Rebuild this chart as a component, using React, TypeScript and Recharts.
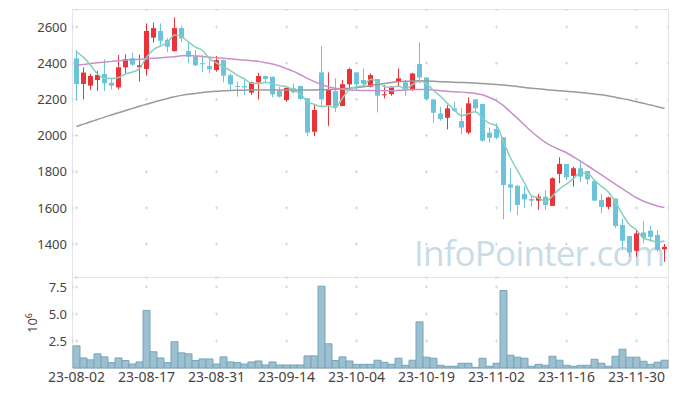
import React from "react";
import { ComposedChart, Bar, Line, XAxis, YAxis, CartesianGrid } from "recharts";

// trading days, 2023-08-02 .. 2023-12-06
const dates = [
  "23-08-02", "23-08-03", "23-08-04", "23-08-07", "23-08-08", "23-08-09", "23-08-10", "23-08-11", "23-08-14", "23-08-16",
  "23-08-17", "23-08-18", "23-08-21", "23-08-22", "23-08-23", "23-08-24", "23-08-25", "23-08-28", "23-08-29", "23-08-30",
  "23-08-31", "23-09-01", "23-09-04", "23-09-05", "23-09-06", "23-09-07", "23-09-08", "23-09-11", "23-09-12", "23-09-13",
  "23-09-14", "23-09-15", "23-09-18", "23-09-19", "23-09-20", "23-09-21", "23-09-22", "23-09-25", "23-09-26", "23-09-27",
  "23-10-04", "23-10-05", "23-10-06", "23-10-10", "23-10-11", "23-10-12", "23-10-13", "23-10-16", "23-10-17", "23-10-18",
  "23-10-19", "23-10-20", "23-10-23", "23-10-24", "23-10-25", "23-10-26", "23-10-27", "23-10-30", "23-10-31", "23-11-01",
  "23-11-02", "23-11-03", "23-11-06", "23-11-07", "23-11-08", "23-11-09", "23-11-10", "23-11-13", "23-11-14", "23-11-15",
  "23-11-16", "23-11-17", "23-11-20", "23-11-21", "23-11-22", "23-11-23", "23-11-24", "23-11-27", "23-11-28", "23-11-29",
  "23-11-30", "23-12-01", "23-12-04", "23-12-05", "23-12-06",
];

const opens = [
  2427, 2285, 2276, 2307, 2340, 2292, 2266, 2377, 2427, 2378,
  2368, 2541, 2578, 2528, 2467, 2594, 2467, 2438, 2400, 2384,
  2362, 2417, 2334, 2274, 2274, 2237, 2294, 2329, 2325, 2246,
  2196, 2261, 2274, 2206, 2021, 2349, 2168, 2246, 2163, 2283,
  2349, 2307, 2270, 2312, 2222, 2229, 2297, 2294, 2251, 2395,
  2321, 2200, 2122, 2098, 2150, 2080, 2016, 2200, 2175, 2016,
  2036, 1990, 1730, 1723, 1677, 1649, 1640, 1662, 1611, 1788,
  1843, 1777, 1819, 1804, 1748, 1643, 1606, 1652, 1505, 1444,
  1363, 1464, 1474, 1450, 1371,
];
const highs = [
  2473, 2377, 2340, 2357, 2421, 2320, 2445, 2449, 2458, 2447,
  2620, 2624, 2620, 2539, 2653, 2607, 2519, 2473, 2445, 2427,
  2440, 2420, 2344, 2298, 2310, 2298, 2347, 2330, 2326, 2270,
  2265, 2288, 2275, 2207, 2172, 2495, 2349, 2316, 2307, 2375,
  2350, 2371, 2343, 2312, 2279, 2273, 2371, 2307, 2347, 2515,
  2322, 2200, 2159, 2168, 2187, 2151, 2211, 2200, 2175, 2044,
  2068, 1990, 1819, 1723, 1718, 1666, 1677, 1699, 1769, 1880,
  1843, 1828, 1861, 1804, 1748, 1676, 1662, 1652, 1542, 1444,
  1477, 1527, 1501, 1477, 1400,
];
const lows = [
  2193, 2200, 2252, 2246, 2246, 2255, 2255, 2344, 2384, 2298,
  2331, 2515, 2502, 2460, 2464, 2517, 2399, 2384, 2350, 2344,
  2353, 2294, 2252, 2215, 2224, 2224, 2200, 2288, 2211, 2209,
  2187, 2233, 2196, 1997, 1997, 2159, 2054, 2131, 2163, 2255,
  2251, 2270, 2266, 2128, 2205, 2220, 2270, 2220, 2248, 2288,
  2196, 2071, 2082, 2034, 2131, 2007, 2007, 2127, 1965, 1961,
  1979, 1537, 1579, 1561, 1598, 1607, 1589, 1589, 1611, 1736,
  1754, 1718, 1745, 1730, 1640, 1570, 1592, 1487, 1367, 1330,
  1330, 1407, 1413, 1358, 1302,
];
const closes = [
  2285, 2348, 2329, 2335, 2289, 2276, 2377, 2423, 2392, 2388,
  2578, 2594, 2524, 2491, 2594, 2537, 2436, 2388, 2396, 2366,
  2417, 2331, 2283, 2270, 2266, 2294, 2329, 2312, 2228, 2215,
  2264, 2239, 2202, 2016, 2141, 2200, 2255, 2159, 2284, 2367,
  2283, 2285, 2334, 2220, 2228, 2270, 2316, 2251, 2343, 2321,
  2202, 2126, 2091, 2150, 2137, 2044, 2178, 2151, 1972, 1988,
  1988, 1727, 1712, 1616, 1647, 1640, 1662, 1616, 1764, 1843,
  1769, 1819, 1773, 1758, 1640, 1606, 1658, 1500, 1418, 1354,
  1459, 1435, 1440, 1367, 1385,
];

// moving averages as drawn (5, 20, 60 days)
const ma5 = [
  2463, 2432, 2390, 2340, 2317, 2315, 2321, 2340, 2351, 2371,
  2432, 2475, 2495, 2515, 2556, 2548, 2516, 2489, 2470, 2425,
  2401, 2380, 2359, 2333, 2313, 2289, 2288, 2294, 2286, 2276,
  2270, 2252, 2230, 2187, 2172, 2160, 2163, 2154, 2208, 2253,
  2270, 2276, 2311, 2298, 2270, 2267, 2274, 2257, 2282, 2300,
  2287, 2249, 2217, 2178, 2141, 2110, 2120, 2132, 2096, 2067,
  2055, 1965, 1877, 1806, 1738, 1668, 1655, 1636, 1666, 1705,
  1731, 1762, 1794, 1792, 1752, 1719, 1687, 1632, 1564, 1507,
  1478, 1433, 1421, 1411, 1417,
];
const ma20 = [
  2390, 2393, 2398, 2402, 2406, 2410, 2413, 2417, 2420, 2422,
  2425, 2427, 2430, 2433, 2436, 2441, 2443, 2440, 2437, 2433,
  2430, 2427, 2424, 2420, 2417, 2414, 2410, 2403, 2395, 2384,
  2370, 2355, 2336, 2316, 2298, 2282, 2270, 2262, 2256, 2252,
  2250, 2249, 2249, 2248, 2248, 2248, 2250, 2252, 2254, 2255,
  2255, 2252, 2248, 2245, 2242, 2240, 2237, 2233, 2225, 2210,
  2192, 2165, 2130, 2095, 2058, 2022, 1990, 1962, 1940, 1922,
  1905, 1882, 1858, 1833, 1808, 1782, 1756, 1730, 1705, 1680,
  1656, 1637, 1623, 1611, 1602,
];
const ma60 = [
  2050, 2063, 2076, 2089, 2102, 2114, 2126, 2138, 2150, 2162,
  2173, 2184, 2195, 2205, 2214, 2222, 2228, 2233, 2238, 2242,
  2245, 2247, 2249, 2250, 2251, 2252, 2252, 2252, 2252, 2252,
  2252, 2252, 2252, 2252, 2252, 2253, 2254, 2256, 2258, 2261,
  2265, 2270, 2276, 2282, 2288, 2293, 2297, 2300, 2302, 2303,
  2302, 2300, 2298, 2296, 2294, 2293, 2292, 2290, 2288, 2285,
  2282, 2279, 2275, 2271, 2266, 2262, 2258, 2254, 2251, 2248,
  2245, 2242, 2238, 2234, 2230, 2225, 2219, 2212, 2204, 2196,
  2187, 2178, 2169, 2159, 2150,
];

// volume, millions of shares
const volumes = [
  2.05, 0.93, 0.75, 1.31, 1.03, 0.5, 0.93, 0.69, 0.37, 0.56,
  5.33, 1.5, 0.93, 0.5, 2.43, 1.4, 1.31, 0.69, 0.84, 0.84,
  0.37, 1.03, 0.56, 0.5, 0.37, 0.56, 0.65, 0.28, 0.56, 0.28,
  0.28, 0.28, 0.28, 1.12, 1.12, 7.57, 2.24, 0.69, 1.03, 0.65,
  0.34, 0.34, 0.34, 0.72, 0.53, 0.34, 0.9, 0.25, 0.72, 4.27,
  1.0, 0.9, 0.25, 0.16, 0.16, 0.44, 0.44, 0.06, 0.9, 0.16,
  0.44, 7.17, 1.18, 1.0, 0.9, 0.16, 0.34, 0.25, 1.09, 0.72,
  0.25, 0.16, 0.25, 0.25, 0.81, 0.44, 0.16, 1.09, 1.74, 1.0,
  1.0, 0.62, 0.34, 0.53, 0.72,
];

const priceTicks = [1400, 1600, 1800, 2000, 2200, 2400, 2600];
const volumeTicks = [2.5, 5, 7.5];
const dateTicks = dates.filter((_, i) => i % 10 === 0);

const UP = "#ea3339";
const DOWN = "#6cc3da";
const GRID = "#d6d6d6";
const FONT = "'Noto Sans', sans-serif";

const rows = dates.map((date, i) => ({
  date,
  open: opens[i],
  high: highs[i],
  low: lows[i],
  close: closes[i],
  range: [lows[i], highs[i]],
  ma5: ma5[i],
  ma20: ma20[i],
  ma60: ma60[i],
  volume: volumes[i],
}));

const Candle = (props: any) => {
  const { x, y, width, height, payload } = props;
  if (!payload) return null;
  const { open, close, high, low } = payload;
  const color = close >= open ? UP : DOWN;
  const toY = (v: number) =>
    high === low ? y : y + ((high - v) / (high - low)) * height;
  const cx = Math.floor(x + width / 2) + 0.5;
  const top = toY(Math.max(open, close));
  const bottom = toY(Math.min(open, close));
  return (
    <g>
      <line x1={cx} x2={cx} y1={y} y2={y + height} stroke={color} strokeWidth={1} />
      <rect
        x={cx - 2.5}
        y={top}
        width={5}
        height={Math.max(1, bottom - top)}
        fill={color}
      />
    </g>
  );
};

const tickStyle = { fontSize: 13, fill: "#444", fontFamily: FONT };

export default function App() {
  return (
    <div style={{ position: "absolute", left: 0, top: 0, width: 677, height: 396, fontFamily: FONT, background: "#fff" }}>
      {/* frame */}
      <div style={{ position: "absolute", left: 72, top: 9, width: 595, height: 358, border: "1px solid #e4e4e4" }} />
      <div style={{ position: "absolute", left: 73, top: 277, width: 595, height: 1, background: "#e4e4e4" }} />
      {/* watermark + volume unit */}
      <svg width={677} height={396} style={{ position: "absolute", left: 0, top: 0 }}>
        <text
          x={414}
          y={266}
          fontSize={35}
          letterSpacing={-0.8}
          fill="#c8dce7"
          fontFamily="'Open Sans', sans-serif"
        >
          InfoPointer.com
        </text>
        <text
          x={37}
          y={333}
          fontSize={13}
          fill="#444"
          transform="rotate(-90 37 333)"
        >
          10<tspan dy={-5} fontSize={9}>6</tspan>
        </text>
      </svg>

      <div style={{ position: "absolute", left: 0, top: 0 }}>
        <ComposedChart
          width={677}
          height={277}
          data={rows}
          margin={{ top: 10, right: 9, bottom: 0, left: 0 }}
          barCategoryGap={0}
        >
          <CartesianGrid horizontal vertical={false} stroke={GRID} strokeDasharray="3 67" strokeDashoffset={68} />
          <CartesianGrid
            horizontal={false}
            vertical
            stroke={GRID}
            strokeDasharray="3 33.18"
            strokeDashoffset={20.68}
          />
          <XAxis dataKey="date" hide ticks={dateTicks} interval={0} />
          <YAxis
            domain={[1218, 2694]}
            ticks={priceTicks}
            width={73}
            axisLine={false}
            tickLine={false}
            tickSize={0}
            tickMargin={6}
            tick={tickStyle}
          />
          <Bar dataKey="range" shape={<Candle />} isAnimationActive={false} />
          <Line type="monotone" dataKey="ma60" stroke="#9a9a9a" strokeWidth={1.5} dot={false} isAnimationActive={false} />
          <Line type="monotone" dataKey="ma20" stroke="#c98fcb" strokeWidth={1.5} dot={false} isAnimationActive={false} />
          <Line type="monotone" dataKey="ma5" stroke="#86cfbc" strokeWidth={1.5} dot={false} isAnimationActive={false} />
        </ComposedChart>
      </div>

      <div style={{ position: "absolute", left: 0, top: 277 }}>
        <ComposedChart
          width={677}
          height={119}
          data={rows}
          margin={{ top: 1, right: 9, bottom: 0, left: 0 }}
          barCategoryGap={0}
        >
          <CartesianGrid horizontal vertical={false} stroke={GRID} strokeDasharray="3 67" strokeDashoffset={68} />
          <CartesianGrid
            horizontal={false}
            vertical
            stroke={GRID}
            strokeDasharray="3 24"
            strokeDashoffset={19.5}
          />
          <XAxis
            dataKey="date"
            ticks={dateTicks}
            interval={0}
            height={28}
            axisLine={false}
            tickLine={false}
            tickSize={0}
            tickMargin={4}
            tick={{ ...tickStyle, fontSize: 14 }}
          />
          <YAxis
            domain={[0, 8.33]}
            ticks={volumeTicks}
            width={73}
            axisLine={false}
            tickLine={false}
            tickSize={0}
            tickMargin={6}
            tick={tickStyle}
            tickFormatter={(v: number) => v.toFixed(1)}
          />
          <Bar dataKey="volume" fill="#9cc0d0" stroke="#76a5bb" strokeWidth={1} isAnimationActive={false} />
        </ComposedChart>
      </div>
    </div>
  );
}
